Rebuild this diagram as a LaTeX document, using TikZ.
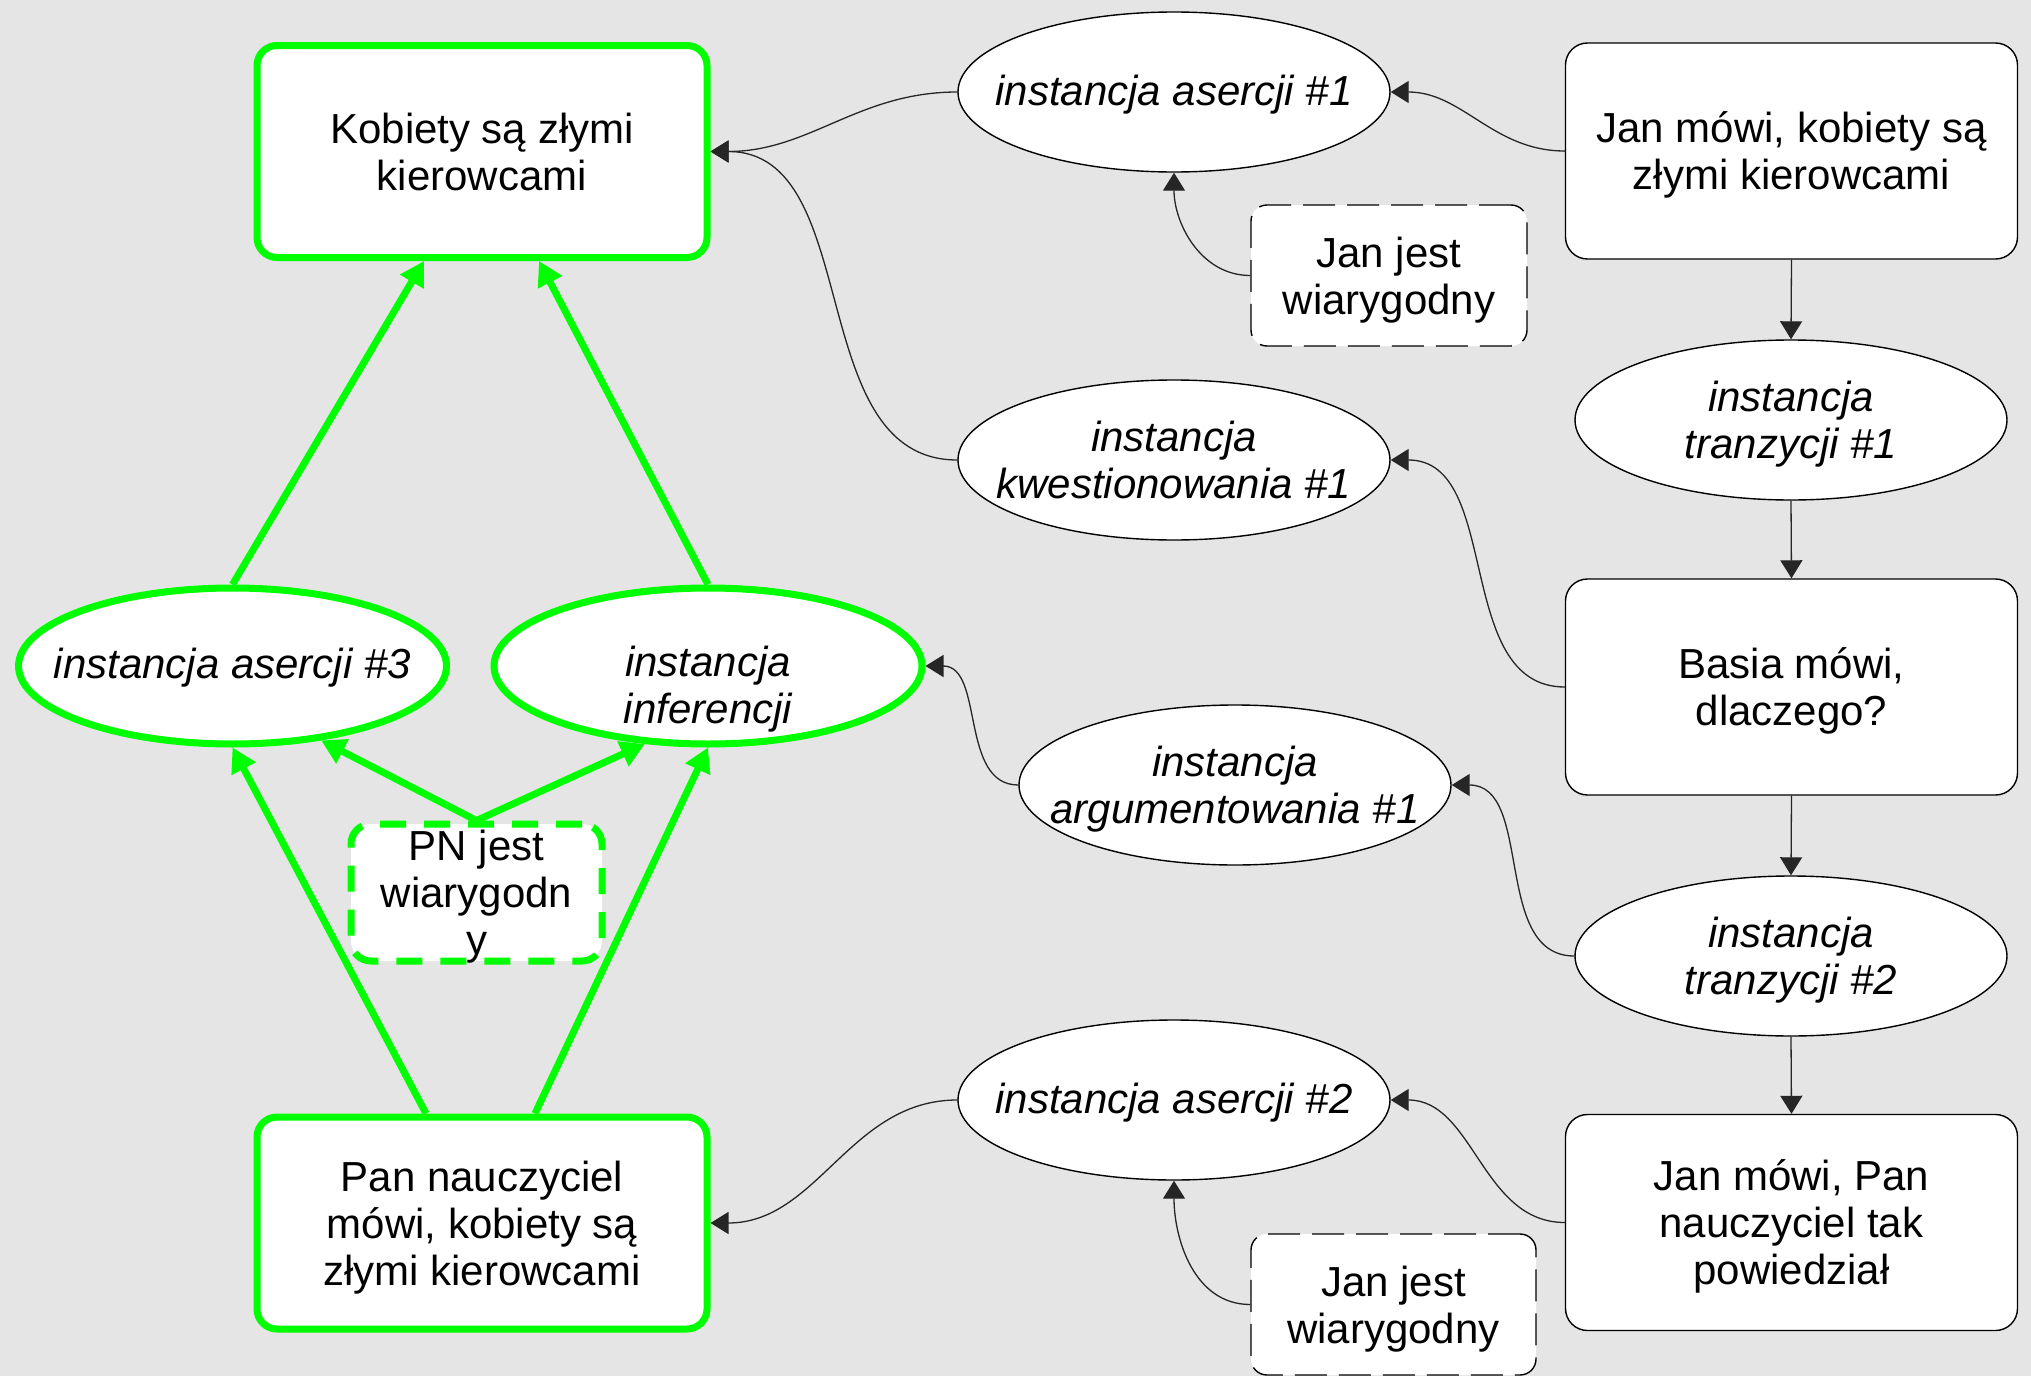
\documentclass[tikz,border=0pt]{standalone}
\usepackage{fontspec}
\setmainfont{Liberation Sans}
\usetikzlibrary{arrows.meta,shapes.geometric,calc}
\definecolor{bgc}{HTML}{E5E5E5}
\definecolor{lime}{RGB}{0,255,0}
\pgfdeclarelayer{back}
\pgfsetlayers{back,main}
\tikzset{
  txt/.style={font=\fontsize{21}{23.5}\selectfont, align=center, text depth=0pt},
  itxt/.style={font=\fontsize{21}{23.5}\selectfont\itshape, align=center},
  gbox/.style={txt, draw=lime, line width=3.5pt, rounded corners=10pt, fill=white, minimum width=225pt, minimum height=106pt, inner sep=0pt},
  wbox/.style={txt, draw=black, line width=0.7pt, rounded corners=11pt, fill=white, minimum width=226pt, minimum height=108pt, inner sep=0pt},
  dbox/.style={txt, draw=black, line width=0.7pt, dash pattern=on 16pt off 6pt, rounded corners=8pt, fill=white, minimum height=70.5pt, inner sep=0pt},
  gdash/.style={txt, draw=lime, line width=3.5pt, dash pattern=on 13pt off 9pt, rounded corners=10pt, fill=white, minimum width=125.5pt, minimum height=68.5pt, inner sep=0pt},
  ellshape/.style={ellipse, draw=black, line width=0.7pt, fill=white, minimum width=216pt, minimum height=80pt, inner sep=0pt},
  gellshape/.style={ellipse, draw=lime, line width=3.5pt, fill=white, minimum width=214pt, minimum height=78pt, inner sep=0pt},
  ell/.style={ellshape, label={[itxt, text depth=0pt]center:#1}},
  ellone/.style={ellshape, label={[itxt, yshift=-1.5pt]center:#1}},
  gellone/.style={gellshape, label={[itxt, yshift=-1pt]center:#1}},
  conn/.style={draw=black!85, line width=0.65pt, -{Triangle[length=9pt,width=11pt]}},
  garrow/.style={draw=lime, line width=3.5pt, -{Triangle[length=12pt,width=13pt]}},
}
\begin{document}
\begin{tikzpicture}[x=0.5pt,y=-0.5pt]
\useasboundingbox (0,0) rectangle (2031,1376);
\begin{pgfonlayer}{back}
\fill[bgc] (0,0) rectangle (2031,1376);
\end{pgfonlayer}

% left (green) part
\node[gbox] (kob) at (482,151.5) {Kobiety są złymi\\kierowcami};
\node[gbox] (pan) at (482,1223) {Pan nauczyciel\\mówi, kobiety są\\złymi kierowcami};
\node[gellone={instancja asercji \#3}] (asr3) at (232.5,666) {};
\node[gellshape, label={[itxt, text depth=0pt, yshift=-9.5pt]center:instancja\\inferencji}] (inf) at (708,666) {};
\node[gdash] (pn) at (476.5,892.5) {PN jest\\wiarygodn\\y};

% middle ellipses
\node[ellone={instancja asercji \#1}] (a1) at (1174,92) {};
\node[ell={instancja\\kwestionowania \#1}] (kw) at (1174,460) {};
\node[ell={instancja\\argumentowania \#1}] (arg) at (1235,785) {};
\node[ellone={instancja asercji \#2}] (a2) at (1174,1100) {};
\node[dbox, minimum width=138pt] (jw1) at (1389,275.5) {Jan jest\\wiarygodny};
\node[dbox, minimum width=142.5pt] (jw2) at (1393.5,1304.5) {Jan jest\\wiarygodny};

% right column
\node[wbox] (jm1) at (1791.5,151) {Jan mówi, kobiety są\\złymi kierowcami};
\node[ell={instancja\\tranzycji \#1}] (tr1) at (1791,420) {};
\node[wbox] (bas) at (1791.5,687) {Basia mówi,\\dlaczego?};
\node[ell={instancja\\tranzycji \#2}] (tr2) at (1791,956) {};
\node[wbox] (jm2) at (1791.5,1222.5) {Jan mówi, Pan\\nauczyciel tak\\powiedział};

\begin{pgfonlayer}{back}
% green arrows
\draw[garrow] (asr3.north) -- ($(kob.south)+(-58,0)$);
\draw[garrow] (inf.north) -- ($(kob.south)+(57,0)$);
\draw[garrow] ($(pan.north)+(-56,0)$) -- (asr3.south);
\draw[garrow] ($(pan.north)+(53,0)$) -- (inf.south);
\draw[garrow] (pn.north) -- (asr3.-40);
\draw[garrow] (pn.north) -- (inf.-129);

% black connectors
\draw[conn] (jm1.west) to[out=180,in=0] (a1.east);
\draw[conn] (jw1.west) to[out=180,in=-90] (a1.south);
\draw[conn] (a1.west) to[out=180,in=0] (kob.east);
\draw[conn] (kw.west) to[out=180,in=0] (kob.east);
\draw[conn] (bas.west) to[out=180,in=0] (kw.east);
\draw[conn] (tr2.west) to[out=180,in=0] (arg.east);
\draw[conn] (arg.west) to[out=180,in=0] (inf.east);
\draw[conn] (jm2.west) to[out=180,in=0] (a2.east);
\draw[conn] (jw2.west) to[out=180,in=-90] (a2.south);
\draw[conn] (a2.west) to[out=180,in=0] (pan.east);
\draw[conn] (jm1.south) -- (tr1.north);
\draw[conn] (tr1.south) -- (bas.north);
\draw[conn] (bas.south) -- (tr2.north);
\draw[conn] (tr2.south) -- (jm2.north);
\end{pgfonlayer}
\end{tikzpicture}
\end{document}
